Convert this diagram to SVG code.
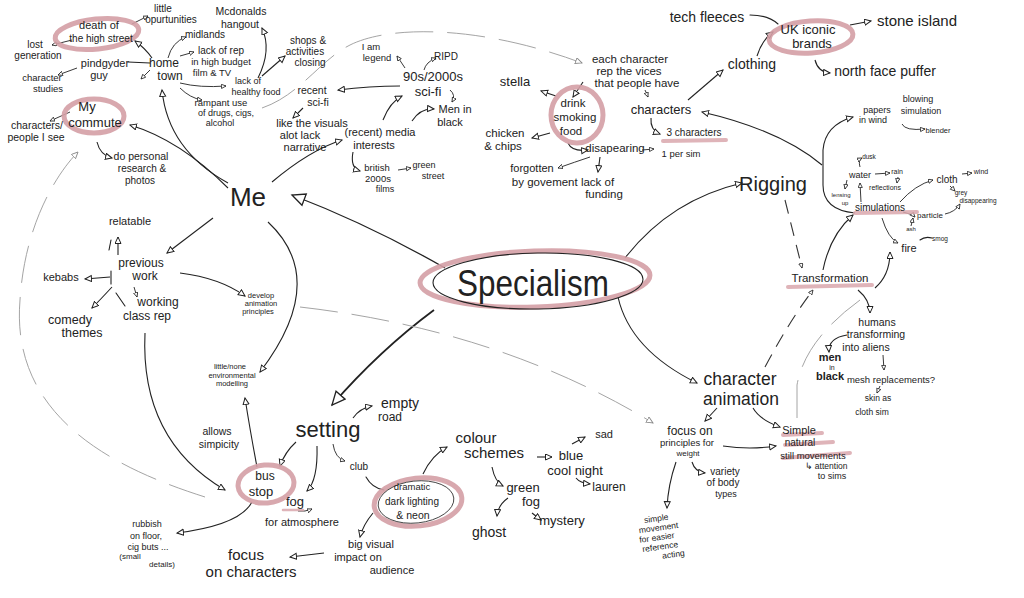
<svg xmlns="http://www.w3.org/2000/svg" width="1024" height="598" viewBox="0 0 1024 598">
<style>
text{font-family:"Liberation Sans","Open Sans",Arial,sans-serif;fill:#222;text-anchor:middle}
.c{fill:none;stroke:#222;stroke-width:1.1;stroke-linecap:round}
.ca{fill:none;stroke:#222;stroke-width:1.1;marker-end:url(#a)}
.cs{fill:none;stroke:#222;stroke-width:0.9;marker-end:url(#s)}
.cb{fill:none;stroke:#222;stroke-width:1.3;marker-end:url(#b)}
.fa{fill:none;stroke:#9a9a9a;stroke-width:0.9;stroke-dasharray:38 14}
.da{fill:none;stroke:#333;stroke-width:1.1;stroke-dasharray:14 9}
.pk{fill:none;stroke:#d49ea5;stroke-width:5;stroke-linecap:round;opacity:.9}
.hl{fill:none;stroke:#d9a7ad;stroke-width:4;stroke-linecap:round;opacity:.85}
.ol{fill:none;stroke:#222;stroke-width:1.1}
</style>
<defs>
<marker id="a" markerUnits="userSpaceOnUse" markerWidth="10" markerHeight="10" refX="7" refY="3.5" orient="auto"><path d="M0.5,0.5 L7,3.5 L0.5,6.5 z" fill="#fff" stroke="#222" stroke-width="1"/></marker>
<marker id="s" markerUnits="userSpaceOnUse" markerWidth="8" markerHeight="8" refX="5" refY="2.5" orient="auto"><path d="M0.4,0.4 L5,2.5 L0.4,4.6 z" fill="#fff" stroke="#222" stroke-width="0.8"/></marker>
<marker id="b" markerUnits="userSpaceOnUse" markerWidth="18" markerHeight="18" refX="14" refY="7" orient="auto"><path d="M1,1 L14,7 L1,13 z" fill="#fff" stroke="#222" stroke-width="1.3"/></marker>
<marker id="g" markerUnits="userSpaceOnUse" markerWidth="10" markerHeight="10" refX="7" refY="3.5" orient="auto"><path d="M0.5,0.5 L7,3.5 L0.5,6.5 z" fill="#fff" stroke="#888" stroke-width="0.9"/></marker>
</defs>
<rect width="1024" height="598" fill="#fff"/>

<g id="connectors">
<path class="cs" d="M132 24 L148 16"/>
<path class="cs" d="M72 40 L52 45"/>
<path class="ca" d="M152 58 Q145 48 135 41"/>
<path class="c" d="M128 62 L150 63"/>
<path class="cs" d="M150 70 L141 79"/>
<path class="cs" d="M77 68 L58 75"/>
<path class="cs" d="M168 58 Q172 42 186 37"/>
<path class="cs" d="M180 56 L194 52"/>
<path class="cs" d="M180 83 Q200 88 226 86"/>
<path class="cs" d="M180 88 Q190 98 202 100"/>
<path class="ca" d="M258 78 Q272 50 262 28"/>
<path class="ca" d="M262 76 L285 56"/>
<path class="ca" d="M228 183 Q168 150 162 90"/>
<path class="ca" d="M228 188 Q180 140 130 125"/>
<path class="ca" d="M97 142 Q100 155 112 158"/>
<path class="cs" d="M70 112 L50 121"/>
<path class="ca" d="M400 86 Q370 86 338 90"/>
<path class="ca" d="M303 108 L293 118"/>
<path class="ca" d="M272 182 Q310 150 342 140"/>
<path class="ca" d="M383 120 Q390 102 402 96"/>
<path class="ca" d="M412 121 Q420 108 434 109"/>
<path class="cs" d="M450 90 Q456 95 452 102"/>
<path class="cs" d="M405 68 L397 56"/>
<path class="cs" d="M424 70 Q426 62 436 58"/>
<path class="ca" d="M353 152 Q350 168 360 171"/>
<path class="cs" d="M398 170 L411 168"/>
<path class="fa" marker-end="url(#g)" d="M262 108 C300 95 320 60 350 45 C390 25 480 25 582 63"/>
<path class="ca" d="M583 82 L573 97"/>
<path class="ca" d="M556 96 L541 91"/>
<path class="ca" d="M550 133 L532 138"/>
<path class="ca" d="M568 143 Q572 152 588 150"/>
<path class="cs" d="M642 150 L654 149"/>
<path class="cs" d="M590 157 Q575 162 558 168"/>
<path class="ca" d="M600 157 L598 172"/>
<path class="cs" d="M645 90 L648 97"/>
<path class="ca" d="M651 118 Q650 130 660 134"/>
<path class="ca" d="M688 100 L723 70"/>
<path class="ca" d="M757 56 Q762 40 773 32"/>
<path class="c" d="M750 15 Q768 15 778 24"/>
<path class="ca" d="M850 25 L871 21"/>
<path class="ca" d="M815 60 Q818 72 830 73"/>
<path class="ca" d="M855 213 Q823 210 823 185 L823 150 Q825 125 853 117"/>
<path class="ca" d="M822 165 Q780 130 702 112"/>
<path class="cs" d="M902 124 Q905 131 925 129"/>
<path class="cb" d="M445 268 Q370 225 292 195"/>
<path class="cb" style="stroke-width:1.8" d="M434 310 Q380 350 332 405"/>
<path class="ca" d="M618 297 Q630 350 697 383"/>
<path class="ca" d="M625 258 Q670 200 742 183"/>
<path class="ca" d="M213 218 L167 253"/>
<path class="ca" d="M268 222 Q330 280 260 372"/>
<path class="ca" d="M118 255 L118 237"/>
<path class="c" d="M111 240 L109 250"/>
<path class="ca" d="M110 277 L85 279"/>
<path class="c" d="M111 271 L111 284"/>
<path class="ca" d="M112 287 Q100 300 92 308"/>
<path class="cs" d="M134 287 L137 297"/>
<path class="c" d="M116 293 L125 306"/>
<path class="ca" d="M180 273 Q220 278 245 296"/>
<path class="ca" d="M145 333 Q140 440 225 490"/>
<path class="fa" marker-end="url(#g)" d="M205 497 C120 470 10 420 20 300 C25 220 60 170 78 152"/>
<path class="ca" d="M353 418 Q360 408 372 406"/>
<path class="ca" d="M296 442 Q285 452 280 466"/>
<path class="ca" d="M317 446 Q318 480 307 491"/>
<path class="cs" d="M333 444 Q335 458 345 461"/>
<path class="c" d="M366 477 Q372 488 384 490"/>
<path class="ca" d="M423 474 Q432 455 447 447"/>
<path class="ca" d="M373 513 Q363 525 360 537"/>
<path class="ca" d="M324 553 L290 557"/>
<path class="ca" d="M252 502 Q240 525 177 533"/>
<path class="ca" d="M257 467 Q250 430 245 398"/>
<path class="cs" d="M298 511 Q305 512 312 509"/>
<path class="ca" d="M537 457 L552 457"/>
<path class="ca" d="M572 444 L585 437"/>
<path class="ca" d="M576 478 Q580 483 590 484"/>
<path class="ca" d="M492 467 Q495 482 503 486"/>
<path class="ca" d="M508 498 Q498 505 497 516"/>
<path class="ca" d="M532 513 L541 520"/>
<path class="ca" d="M717 408 L705 421"/>
<path class="ca" d="M753 408 Q760 420 780 427"/>
<path class="ca" d="M723 446 Q750 450 776 446"/>
<path class="ca" d="M676 462 Q668 485 667 508"/>
<path class="ca" d="M692 462 Q695 472 705 473"/>
<path class="fa" marker-end="url(#g)" d="M300 307 Q500 330 653 423"/>
<path class="da" marker-end="url(#s)" d="M765 367 Q790 320 813 290"/>
<path class="fa" d="M797 418 L797 385 Q805 340 860 300"/>
<path class="da" marker-end="url(#s)" d="M785 200 Q795 240 802 268"/>
<path class="ca" d="M823 270 Q830 235 853 215"/>
<path class="ca" d="M875 288 Q890 275 890 252"/>
<path class="ca" d="M858 290 Q870 300 870 313"/>
<path class="ca" d="M847 335 Q828 338 829 352"/>
<path class="cs" d="M883 355 L884 370"/>
<path class="cs" d="M880 386 L877 393"/>
<path class="cs" d="M861 202 L860 183"/>
<path class="cs" d="M875 174 L890 173"/>
<path class="cs" d="M860 167 Q858 160 862 158"/>
<path class="cs" d="M898 177 L897 183"/>
<path class="cs" d="M847 180 L845 189"/>
<path class="cs" d="M900 202 Q915 185 933 180"/>
<path class="cs" d="M962 174 L972 173"/>
<path class="cs" d="M950 186 L955 191"/>
<path class="cs" d="M903 212 Q912 214 915 217"/>
<path class="cs" d="M945 214 Q955 212 960 204"/>
<path class="cs" d="M911 226 L913 218"/>
<path class="cs" d="M882 218 Q888 238 898 243"/>
<path class="c" d="M920 240 Q925 236 932 238"/>
</g>

<g id="specialism">
<ellipse class="pk" cx="535" cy="279" rx="115" ry="28" transform="rotate(-2 535 279)"/>
<ellipse class="ol" cx="538" cy="281" rx="105" ry="28" transform="rotate(-1 538 281)"/>
<text x="533" y="296" font-size="36" textLength="152" lengthAdjust="spacingAndGlyphs">Specialism</text>
</g>

<g id="death-of-high-street">
<ellipse class="pk" cx="97" cy="34" rx="42" ry="15" transform="rotate(-6 97 34)"/>
<text x="99" y="29" font-size="11">death of</text>
<text x="101" y="42" font-size="10">the high street</text>
</g>
<g id="little-opurtunities"><text x="163" y="12" font-size="10">little</text><text x="171" y="23" font-size="10">opurtunities</text></g>
<g id="lost-generation"><text x="35" y="48" font-size="10">lost</text><text x="38" y="59" font-size="10">generation</text></g>
<g id="pindgyder-guy"><text x="105" y="67" font-size="11">pindgyder</text><text x="99" y="79" font-size="11">guy</text></g>
<g id="character-studies"><text x="42" y="81" font-size="9.5">character</text><text x="48" y="92" font-size="9.5">studies</text></g>
<g id="home-town"><text x="164" y="67" font-size="12">home</text><text x="170" y="80" font-size="12">town</text></g>
<g id="midlands"><text x="205" y="38" font-size="10">midlands</text></g>
<g id="lack-of-rep"><text x="221" y="54" font-size="10">lack of rep</text><text x="221" y="65" font-size="9.5">in high budget</text><text x="212" y="76" font-size="9.5">film &amp; TV</text></g>
<g id="mcdonalds"><text x="241" y="15" font-size="10.5">Mcdonalds</text><text x="240" y="28" font-size="10.5">hangout</text></g>
<g id="healthy-food"><text x="248" y="84" font-size="9">lack of</text><text x="256" y="95" font-size="9">healthy food</text></g>
<g id="shops"><text x="308" y="44" font-size="10">shops &amp;</text><text x="305" y="55" font-size="10">activities</text><text x="310" y="66" font-size="10">closing</text></g>
<g id="rampant"><text x="221" y="106" font-size="9.5">rampant use</text><text x="226" y="116" font-size="9">of drugs, cigs,</text><text x="220" y="126" font-size="9">alcohol</text></g>
<g id="recent-scifi"><text x="312" y="94" font-size="10.5">recent</text><text x="318" y="106" font-size="10.5">sci-fi</text></g>
<g id="visuals"><text x="312" y="127" font-size="11">like the visuals</text><text x="300" y="139" font-size="11">alot lack</text><text x="305" y="151" font-size="11">narrative</text></g>
<g id="my-commute">
<ellipse class="pk" cx="94" cy="116" rx="30" ry="17"/>
<text x="87" y="111" font-size="13">My</text><text x="95" y="127" font-size="13">commute</text>
</g>
<g id="characters-people"><text x="37" y="129" font-size="10.5">characters/</text><text x="36" y="141" font-size="10.5">people I see</text></g>
<g id="do-personal"><text x="141" y="160" font-size="10.5">do personal</text><text x="142" y="172" font-size="10">research &amp;</text><text x="140" y="184" font-size="10">photos</text></g>

<g id="me"><text x="248" y="206" font-size="26">Me</text></g>
<g id="relatable"><text x="130" y="225" font-size="11">relatable</text></g>
<g id="previous-work"><text x="141" y="267" font-size="12">previous</text><text x="145" y="280" font-size="12">work</text></g>
<g id="kebabs"><text x="61" y="281" font-size="11">kebabs</text></g>
<g id="comedy"><text x="70" y="324" font-size="12.5">comedy</text><text x="82" y="337" font-size="12.5">themes</text></g>
<g id="working-class"><text x="158" y="306" font-size="12">working</text><text x="147" y="320" font-size="12">class rep</text></g>
<g id="develop"><text x="261" y="298" font-size="7.5">develop</text><text x="261" y="306" font-size="7.5">animation</text><text x="258" y="314" font-size="7.5">principles</text></g>
<g id="little-none"><text x="230" y="369" font-size="7.5">little/none</text><text x="232" y="377.5" font-size="7.5">environmental</text><text x="232" y="386" font-size="7.5">modelling</text></g>

<g id="i-am-legend"><text x="371" y="50" font-size="9.5">I am</text><text x="377" y="61" font-size="9.5">legend</text></g>
<g id="ripd"><text x="446" y="60" font-size="10">RIPD</text></g>
<g id="scifi-90s"><text x="433" y="81" font-size="13">90s/2000s</text><text x="428" y="96" font-size="13">sci-fi</text></g>
<g id="men-in-black-1"><text x="455" y="113" font-size="11">Men in</text><text x="450" y="126" font-size="11">black</text></g>
<g id="media"><text x="380" y="136" font-size="11">(recent) media</text><text x="374" y="149" font-size="11">interests</text></g>
<g id="british"><text x="377" y="171" font-size="9.5">british</text><text x="378" y="182" font-size="9.5">2000s</text><text x="385" y="192" font-size="9">films</text></g>
<g id="green-street"><text x="424" y="168" font-size="9">green</text><text x="433" y="178.5" font-size="9">street</text></g>

<g id="stella"><text x="515" y="86" font-size="13">stella</text></g>
<g id="each-character"><text x="630" y="63" font-size="11.5">each character</text><text x="629" y="75" font-size="11.5">rep the vices</text><text x="637" y="87" font-size="11.5">that people have</text></g>
<g id="drink">
<ellipse class="pk" cx="577" cy="115" rx="26" ry="28"/>
<text x="573" y="107" font-size="11.5">drink</text><text x="575" y="121" font-size="11.5">smoking</text><text x="571" y="135" font-size="11.5">food</text>
</g>
<g id="chicken"><text x="505" y="137" font-size="11.5">chicken</text><text x="503" y="150" font-size="11.5">&amp; chips</text></g>
<g id="disapearing"><text x="615" y="152" font-size="11.5">disapearing</text></g>
<g id="per-sim"><text x="681" y="157" font-size="9.5">1 per sim</text></g>
<g id="forgotten"><text x="532" y="172" font-size="11">forgotten</text></g>
<g id="funding"><text x="563" y="186" font-size="11.5">by govement lack of</text><text x="604" y="198" font-size="11.5">funding</text></g>
<g id="characters"><text x="661" y="114" font-size="13">characters</text></g>
<g id="three-characters"><path class="hl" d="M663 141 L726 140"/><text x="694" y="136" font-size="10">3 characters</text></g>
<g id="clothing"><text x="752" y="69" font-size="14">clothing</text></g>
<g id="tech-fleeces"><text x="707" y="22" font-size="14">tech fleeces</text></g>
<g id="uk-brands">
<ellipse class="pk" cx="811" cy="37" rx="42" ry="16" transform="rotate(-4 811 37)"/>
<text x="808" y="34" font-size="13">UK iconic</text><text x="812" y="48" font-size="13">brands</text>
</g>
<g id="stone-island"><text x="917" y="26" font-size="15">stone island</text></g>
<g id="north-face"><text x="885" y="76" font-size="14">north face puffer</text></g>
<g id="papers"><text x="877" y="113" font-size="9">papers</text><text x="918" y="102" font-size="9">blowing</text><text x="873" y="123" font-size="9">in wind</text><text x="921" y="114" font-size="9">simulation</text><text x="938" y="133" font-size="7.5">blender</text></g>

<g id="simulations"><path class="hl" d="M855 213 L917 212"/><text x="880" y="211" font-size="10">simulations</text></g>
<g id="water"><text x="860" y="178" font-size="9">water</text></g>
<g id="rain"><text x="897" y="174" font-size="7">rain</text></g>
<g id="dusk"><text x="869" y="159" font-size="6.5">dusk</text></g>
<g id="reflections"><text x="885" y="190" font-size="7">reflections</text></g>
<g id="lensing"><text x="841" y="197" font-size="6">lensing</text><text x="845" y="205" font-size="6">up</text></g>
<g id="cloth"><text x="947" y="183" font-size="10">cloth</text></g>
<g id="wind"><text x="981" y="174" font-size="7">wind</text></g>
<g id="grey"><text x="961" y="195" font-size="6.5">grey</text><text x="978" y="203" font-size="6.5">disappearing</text></g>
<g id="particle"><text x="930" y="218" font-size="8">particle</text></g>
<g id="ash"><text x="911" y="231" font-size="6">ash</text></g>
<g id="fire"><text x="909" y="252" font-size="11">fire</text></g>
<g id="smog"><text x="940" y="241" font-size="6.5">smog</text></g>

<g id="rigging"><text x="773" y="191" font-size="20">Rigging</text></g>
<g id="transformation"><path class="hl" d="M788 287 L872 285"/><text x="830" y="282" font-size="11.5">Transformation</text></g>
<g id="humans"><text x="877" y="326" font-size="10.5">humans</text><text x="876" y="338" font-size="10.5">transforming</text><text x="866" y="351" font-size="10.5">into aliens</text></g>
<g id="men-in-black-2"><text x="830" y="361" font-size="11" font-weight="bold">men</text><text x="832" y="369.5" font-size="7">in</text><text x="830" y="380" font-size="11" font-weight="bold">black</text></g>
<g id="mesh"><text x="891" y="383" font-size="9.5">mesh replacements?</text></g>
<g id="skin"><text x="878" y="401" font-size="8.5">skin as</text><text x="872" y="415" font-size="8.5">cloth sim</text></g>

<g id="character-animation"><text x="740" y="385" font-size="17.5">character</text><text x="741" y="405" font-size="17.5">animation</text></g>
<g id="focus-principles"><text x="690" y="435" font-size="12">focus on</text><text x="687" y="446" font-size="9.5">principles for</text><text x="688" y="455.5" font-size="8">weight</text></g>
<g id="simple-natural">
<path class="hl" d="M783 435 L822 433"/><path class="hl" d="M785 445 L833 442"/><path class="hl" d="M783 458 L850 453"/>
<text x="799" y="434" font-size="11">Simple</text><text x="800" y="446" font-size="10">natural</text><text x="813" y="459" font-size="9.5">still movements</text><text x="826" y="469" font-size="8.5">↳ attention</text><text x="832" y="479" font-size="9">to sims</text>
</g>
<g id="variety"><text x="725" y="475" font-size="10">variety</text><text x="723" y="486" font-size="10">of body</text><text x="726" y="497" font-size="9">types</text></g>
<g id="simple-movement" transform="rotate(-8 660 538)"><text x="659" y="521" font-size="8.5">simple</text><text x="660" y="530.5" font-size="8.5">movement</text><text x="657" y="540" font-size="8.5">for easier</text><text x="659" y="549.5" font-size="8.5">reference</text><text x="671" y="559" font-size="8.5">acting</text></g>

<g id="setting"><text x="328" y="437" font-size="22">setting</text></g>
<g id="empty-road"><text x="400" y="408" font-size="14">empty</text><text x="390" y="421" font-size="12">road</text></g>
<g id="bus-stop">
<ellipse class="pk" cx="266" cy="484" rx="28" ry="19" transform="rotate(-5 266 484)"/>
<text x="265" y="480" font-size="12">bus</text><text x="261" y="496" font-size="13">stop</text>
</g>
<g id="allows"><text x="217" y="435" font-size="10.5">allows</text><text x="219" y="448" font-size="10.5">simpicity</text></g>
<g id="fog"><path class="hl" style="stroke-width:2.5" d="M283 510 L303 510"/><text x="295" y="506" font-size="13">fog</text><text x="302" y="526" font-size="11">for atmosphere</text></g>
<g id="club"><text x="359" y="470" font-size="10">club</text></g>
<g id="dramatic">
<ellipse class="pk" cx="418" cy="502" rx="44" ry="24" transform="rotate(-6 418 502)"/>
<ellipse class="ol" style="stroke-width:0.8" cx="416" cy="502" rx="38" ry="21" transform="rotate(-6 416 502)"/>
<text x="412" y="490" font-size="9.5">dramatic</text><text x="412" y="505" font-size="10">dark lighting</text><text x="413" y="519" font-size="10.5">&amp; neon</text>
</g>
<g id="big-visual"><text x="371" y="548" font-size="11">big  visual</text><text x="358" y="561" font-size="11">impact on</text><text x="392" y="574" font-size="11">audience</text></g>
<g id="focus-characters"><text x="246" y="560" font-size="15">focus</text><text x="251" y="577" font-size="15">on characters</text></g>
<g id="rubbish"><text x="147" y="527" font-size="9">rubbish</text><text x="146" y="539" font-size="9">on floor,</text><text x="148" y="550" font-size="9">cig buts ...</text><text x="130" y="559" font-size="8">(small</text><text x="162" y="567" font-size="8">details)</text></g>

<g id="colour-schemes"><text x="476" y="443" font-size="15">colour</text><text x="494" y="458" font-size="15">schemes</text></g>
<g id="blue"><text x="571" y="460" font-size="13">blue</text><text x="575" y="475" font-size="13">cool night</text></g>
<g id="sad"><text x="604" y="438" font-size="11">sad</text></g>
<g id="lauren"><text x="609" y="491" font-size="12">lauren</text></g>
<g id="green-fog"><text x="523" y="492" font-size="13">green</text><text x="531" y="506" font-size="13">fog</text></g>
<g id="ghost"><text x="489" y="537" font-size="14">ghost</text></g>
<g id="mystery"><text x="562" y="525" font-size="13">mystery</text></g>
</svg>
